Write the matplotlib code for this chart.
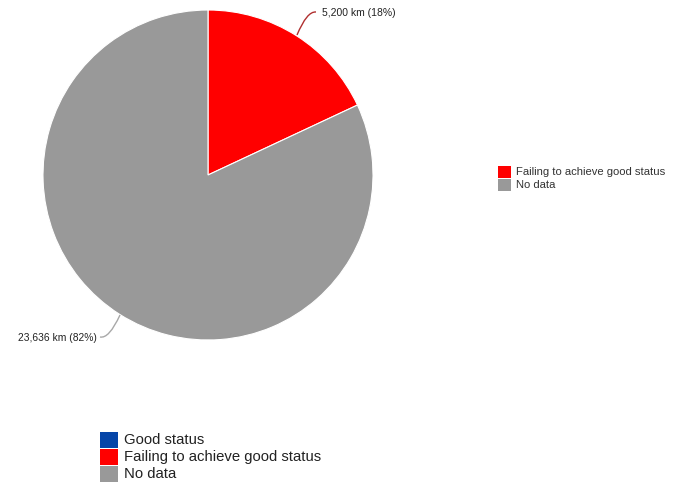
import matplotlib.pyplot as plt
from matplotlib.patches import Rectangle
from matplotlib.path import Path
from matplotlib.patches import PathPatch

plt.rcParams['font.family'] = ['Liberation Sans', 'DejaVu Sans']

# data
categories = ['Failing to achieve good status', 'No data']
lengths_km = [5200, 23636]
slice_labels = ['5,200 km (18%)', '23,636 km (82%)']
slice_colors = ['#ff0000', '#999999']
leader_colors = ['#b03030', '#a8a8a8']

legend2_labels = ['Good status', 'Failing to achieve good status', 'No data']
legend2_colors = ['#0645a8', '#ff0000', '#999999']

W, H = 677, 482
fig = plt.figure(figsize=(W / 100, H / 100), dpi=100)
ax = fig.add_axes([0, 0, 1, 1])

# pie (drawn in pixel coords, y flipped -> counterclock=True gives clockwise on screen)
cx, cy, r = 208, 175, 165
wedges, _ = ax.pie(lengths_km, colors=slice_colors, startangle=-90, counterclock=True,
                   center=(cx, cy), radius=r, frame=True,
                   wedgeprops=dict(edgecolor='white', linewidth=0.8))
ax.set_xlim(0, W)
ax.set_ylim(H, 0)
ax.set_aspect('auto')
ax.axis('off')

# slice labels with curved leader lines
def leader(p0, p1, p2, color):
    path = Path([p0, p1, p2], [Path.MOVETO, Path.CURVE3, Path.CURVE3])
    ax.add_patch(PathPatch(path, facecolor='none', edgecolor=color, lw=1.0))

leader((297, 35), (307, 11), (316, 12), leader_colors[0])
ax.text(322, 13, slice_labels[0], fontsize=7.5, va='center', ha='left', color='#222222')

leader((120, 315), (109, 339), (100, 337), leader_colors[1])
ax.text(18, 338, slice_labels[1], fontsize=7.4, va='center', ha='left', color='#222222')

# legend 1 (right)
for i, (lab, col) in enumerate(zip(categories, slice_colors)):
    y = 166 + i * 12.5
    ax.add_patch(Rectangle((498, y), 13, 12, facecolor=col, edgecolor='none'))
    ax.text(516, y + 6, lab, fontsize=8.1, va='center', ha='left', color='#333333')

# legend 2 (bottom)
for i, (lab, col) in enumerate(zip(legend2_labels, legend2_colors)):
    y = 432 + i * 17
    ax.add_patch(Rectangle((100, y), 18, 15.5, facecolor=col, edgecolor='none'))
    ax.text(124, y + 8, lab, fontsize=10.7, va='center', ha='left', color='#222222')

fig.savefig('out.png', dpi=100)
